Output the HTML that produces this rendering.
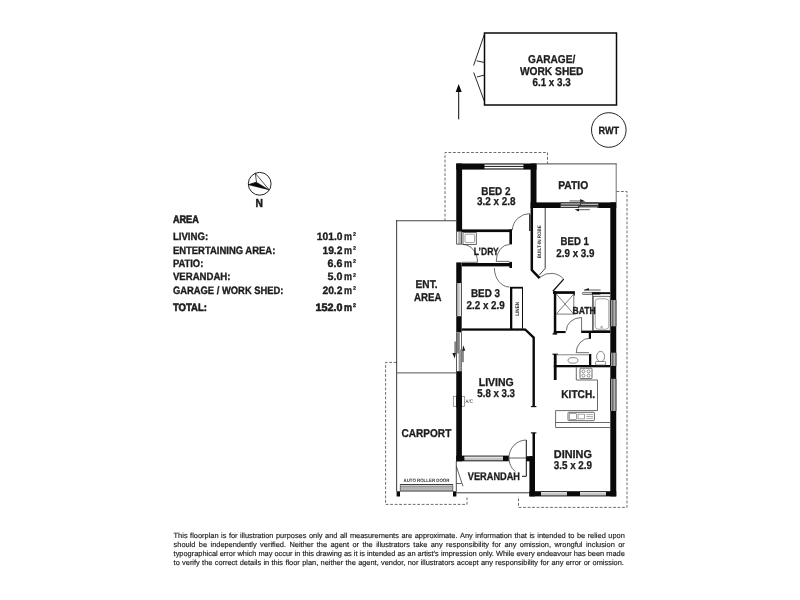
<!DOCTYPE html>
<html><head><meta charset="utf-8"><title>Floor plan</title>
<style>html,body{margin:0;padding:0;background:#fff;}
svg{display:block;font-family:"Liberation Sans",sans-serif;will-change:transform;}
text{white-space:pre;text-rendering:geometricPrecision;}</style></head>
<body>
<svg width="800" height="600" viewBox="0 0 800 600">
<rect width="800" height="600" fill="#fff"/>
<path d="M445 221 V152.5 H547.5 V163.5" stroke="#5c5c5c" stroke-width="0.9" fill="none" stroke-dasharray="2.8 1.7"/>
<path d="M616.5 191.5 H627 V507.4 H518.5 V496.5" stroke="#5c5c5c" stroke-width="0.9" fill="none" stroke-dasharray="2.8 1.7"/>
<path d="M396.5 362.4 H385.6 V504.4 H467 V496.5" stroke="#5c5c5c" stroke-width="0.9" fill="none" stroke-dasharray="2.8 1.7"/>
<rect x="484.5" y="33" width="132" height="72" fill="#fff" stroke="#0a0a0a" stroke-width="1.5"/>
<path d="M484.5 34 L473.6 65.5 M473.7 72.5 L484.5 101.7 M476.7 60.8 L484.5 62.5 M477 77 L484.5 75" stroke="#111" stroke-width="0.9" fill="none" />
<line x1="458.70" y1="119.30" x2="458.70" y2="90.00" stroke="#0a0a0a" stroke-width="1.0" />
<path d="M458.7 84 L455.7 92 L461.7 92 Z" stroke="none" stroke-width="0" fill="#0a0a0a" />
<circle cx="608.8" cy="130" r="17.3" fill="#fff" stroke="#0a0a0a" stroke-width="0.9"/>
<line x1="536.50" y1="163.90" x2="616.60" y2="163.90" stroke="#333" stroke-width="0.9" />
<line x1="616.20" y1="163.50" x2="616.20" y2="202.50" stroke="#6e6e6e" stroke-width="1.0" />
<line x1="396.20" y1="220.80" x2="456.30" y2="220.80" stroke="#444" stroke-width="1.1" />
<line x1="396.65" y1="220.30" x2="396.65" y2="491.50" stroke="#222" stroke-width="0.9" />
<line x1="396.60" y1="372.90" x2="456.30" y2="372.90" stroke="#555" stroke-width="1.0" />
<line x1="456.30" y1="461.00" x2="456.30" y2="491.50" stroke="#222" stroke-width="0.8" />
<line x1="456.30" y1="492.80" x2="529.40" y2="492.80" stroke="#222" stroke-width="0.9" />
<path d="M456.3 466.3 L463 486.3 M456.3 483.5 H461.6" stroke="#222" stroke-width="0.7" fill="none" />
<rect x="396.60" y="491.30" width="3.40" height="5.20" fill="#0a0a0a" />
<rect x="453.00" y="491.30" width="3.40" height="5.20" fill="#0a0a0a" />
<rect x="400.20" y="484.20" width="52.70" height="7.20" fill="#cfcfcf" />
<line x1="400.20" y1="484.50" x2="452.90" y2="484.50" stroke="#2a2a2a" stroke-width="0.9" />
<line x1="400.20" y1="486.85" x2="452.90" y2="486.85" stroke="#444" stroke-width="0.6" />
<line x1="400.20" y1="488.75" x2="452.90" y2="488.75" stroke="#888" stroke-width="0.5" />
<line x1="400.20" y1="490.25" x2="452.90" y2="490.25" stroke="#555" stroke-width="0.55" />
<line x1="400.20" y1="491.25" x2="452.90" y2="491.25" stroke="#2a2a2a" stroke-width="0.6" />
<line x1="400.30" y1="484.20" x2="400.30" y2="491.40" stroke="#333" stroke-width="0.6" />
<line x1="452.80" y1="484.20" x2="452.80" y2="491.40" stroke="#333" stroke-width="0.6" />
<rect x="456.25" y="163.50" width="80.25" height="6.10" fill="#0a0a0a" />
<rect x="456.25" y="163.50" width="5.85" height="67.80" fill="#0a0a0a" />
<rect x="530.60" y="163.50" width="5.90" height="44.50" fill="#0a0a0a" />
<rect x="530.60" y="202.40" width="85.65" height="5.60" fill="#0a0a0a" />
<rect x="610.30" y="202.40" width="5.95" height="294.00" fill="#0a0a0a" />
<rect x="529.40" y="491.20" width="86.85" height="5.20" fill="#0a0a0a" />
<rect x="529.40" y="456.20" width="5.60" height="40.20" fill="#0a0a0a" />
<rect x="526.20" y="456.20" width="8.80" height="5.10" fill="#0a0a0a" />
<rect x="456.25" y="455.60" width="52.55" height="5.70" fill="#0a0a0a" />
<rect x="456.25" y="370.60" width="5.65" height="90.70" fill="#0a0a0a" />
<rect x="456.25" y="316.20" width="5.45" height="16.40" fill="#0a0a0a" />
<rect x="456.25" y="262.40" width="5.45" height="20.70" fill="#0a0a0a" />
<rect x="484.50" y="163.50" width="38.90" height="1.50" fill="#5e5e5e" />
<rect x="484.50" y="165.00" width="38.90" height="3.40" fill="#303030" />
<rect x="484.50" y="168.30" width="38.90" height="1.30" fill="#858585" />
<rect x="484.50" y="164.80" width="38.90" height="1.10" fill="#fff" />
<rect x="484.50" y="167.00" width="38.90" height="1.10" fill="#fff" />
<rect x="464.40" y="456.70" width="38.60" height="3.70" fill="#c4c4c4" />
<rect x="464.40" y="456.70" width="38.60" height="0.85" fill="#fff" />
<rect x="541.00" y="492.30" width="26.00" height="3.20" fill="#c4c4c4" />
<rect x="541.00" y="492.30" width="26.00" height="0.85" fill="#fff" />
<rect x="580.00" y="492.30" width="26.00" height="3.20" fill="#c4c4c4" />
<rect x="580.00" y="492.30" width="26.00" height="0.85" fill="#fff" />
<rect x="610.30" y="300.00" width="5.95" height="26.30" fill="#0a0a0a" />
<rect x="611.40" y="300.00" width="3.25" height="26.30" fill="#1c1c1c" />
<rect x="614.55" y="300.00" width="1.70" height="26.30" fill="#787878" />
<rect x="611.40" y="300.00" width="0.95" height="26.30" fill="#fff" />
<rect x="613.50" y="300.00" width="1.10" height="26.30" fill="#fff" />
<rect x="610.30" y="352.70" width="5.95" height="13.30" fill="#0a0a0a" />
<rect x="611.40" y="352.70" width="3.25" height="13.30" fill="#1c1c1c" />
<rect x="614.55" y="352.70" width="1.70" height="13.30" fill="#787878" />
<rect x="611.40" y="352.70" width="0.95" height="13.30" fill="#fff" />
<rect x="613.50" y="352.70" width="1.10" height="13.30" fill="#fff" />
<rect x="610.30" y="378.80" width="5.95" height="32.20" fill="#0a0a0a" />
<rect x="611.40" y="378.80" width="3.25" height="32.20" fill="#1c1c1c" />
<rect x="614.55" y="378.80" width="1.70" height="32.20" fill="#787878" />
<rect x="611.40" y="378.80" width="0.95" height="32.20" fill="#fff" />
<rect x="613.50" y="378.80" width="1.10" height="32.20" fill="#fff" />
<rect x="456.70" y="231.30" width="4.95" height="12.80" fill="#fff" stroke="#222" stroke-width="0.75"/>
<line x1="459.05" y1="231.30" x2="459.05" y2="243.80" stroke="#333" stroke-width="0.7" />
<line x1="460.55" y1="231.30" x2="460.55" y2="243.80" stroke="#777" stroke-width="0.6" />
<rect x="456.25" y="283.10" width="5.45" height="32.90" fill="#0a0a0a" />
<rect x="457.15" y="283.10" width="3.65" height="32.90" fill="#c4c4c4" />
<rect x="459.80" y="283.10" width="0.95" height="32.90" fill="#fff" />
<rect x="560.10" y="202.40" width="38.70" height="5.60" fill="#3a3a3a" />
<line x1="561.20" y1="203.95" x2="580.00" y2="203.95" stroke="#fff" stroke-width="0.8" />
<line x1="581.10" y1="204.30" x2="598.00" y2="204.30" stroke="#fff" stroke-width="0.8" />
<line x1="560.90" y1="206.35" x2="578.10" y2="206.35" stroke="#fff" stroke-width="0.85" />
<line x1="579.30" y1="207.30" x2="597.30" y2="207.30" stroke="#e8e8e8" stroke-width="0.8" />
<rect x="569.50" y="200.40" width="12.00" height="1.10" fill="#6a6a6a" />
<path d="M580.2 198.9 L585.6 201.5 L580.2 201.9 Z" stroke="none" stroke-width="0" fill="#1a1a1a" />
<rect x="578.00" y="209.10" width="11.80" height="1.10" fill="#6a6a6a" />
<path d="M579 208.8 L574.6 209.6 L579 211.5 Z" stroke="none" stroke-width="0" fill="#1a1a1a" />
<rect x="456.25" y="332.70" width="5.65" height="38.50" fill="#fff" />
<rect x="456.25" y="332.70" width="0.75" height="38.50" fill="#222" />
<rect x="461.20" y="332.70" width="0.70" height="38.50" fill="#222" />
<rect x="458.80" y="332.70" width="0.70" height="38.50" fill="#333" />
<rect x="456.80" y="333.00" width="2.20" height="20.40" fill="#808080" />
<rect x="459.40" y="349.30" width="2.00" height="21.70" fill="#9a9a9a" />
<rect x="454.30" y="341.50" width="1.90" height="12.10" fill="#858585" />
<path d="M452.3 353 L455.9 353 L454.7 358.6 Z" stroke="none" stroke-width="0" fill="#1a1a1a" />
<rect x="462.00" y="350.00" width="1.90" height="12.20" fill="#858585" />
<path d="M462.2 350.8 L465.3 350.8 L463.3 345.3 Z" stroke="none" stroke-width="0" fill="#1a1a1a" />
<rect x="462.00" y="229.40" width="50.00" height="2.70" fill="#0a0a0a" />
<rect x="509.40" y="229.40" width="2.60" height="15.00" fill="#0a0a0a" />
<rect x="462.00" y="263.00" width="50.00" height="3.40" fill="#0a0a0a" />
<rect x="509.40" y="261.90" width="2.60" height="6.10" fill="#0a0a0a" />
<rect x="510.00" y="287.00" width="2.30" height="42.00" fill="#0a0a0a" />
<rect x="510.00" y="286.80" width="12.90" height="1.80" fill="#0a0a0a" />
<line x1="522.50" y1="287.50" x2="522.50" y2="328.60" stroke="#0a0a0a" stroke-width="1.0" />
<rect x="461.70" y="328.40" width="64.10" height="2.30" fill="#0a0a0a" />
<path d="M525.2 329.5 L533.7 337.6 V406.8" stroke="#0a0a0a" stroke-width="2.4" fill="none" />
<line x1="530.90" y1="406.60" x2="536.40" y2="406.60" stroke="#0a0a0a" stroke-width="1.1" />
<rect x="532.50" y="432.80" width="2.50" height="23.50" fill="#0a0a0a" />
<line x1="530.90" y1="432.90" x2="536.40" y2="432.90" stroke="#0a0a0a" stroke-width="1.1" />
<path d="M531.8 207.5 V270 L539.6 278.2" stroke="#0a0a0a" stroke-width="2.5" fill="none" />
<path d="M545.2 207.8 V268.4 L539.4 275" stroke="#0a0a0a" stroke-width="0.8" fill="none" />
<rect x="553.00" y="291.20" width="21.40" height="2.70" fill="#0a0a0a" />
<rect x="573.70" y="291.20" width="1.10" height="4.40" fill="#0a0a0a" />
<rect x="553.80" y="291.20" width="2.50" height="42.80" fill="#0a0a0a" />
<rect x="552.60" y="333.20" width="4.60" height="1.40" fill="#0a0a0a" />
<rect x="553.80" y="331.00" width="11.80" height="2.10" fill="#0a0a0a" />
<rect x="581.20" y="330.60" width="29.10" height="2.40" fill="#0a0a0a" />
<rect x="588.80" y="333.00" width="2.20" height="5.80" fill="#0a0a0a" />
<rect x="582.3" y="292.4" width="18.3" height="2.1" rx="1" fill="#d0d0d0" stroke="#333" stroke-width="0.6"/>
<rect x="591.90" y="292.20" width="18.40" height="1.90" fill="#0a0a0a" />
<line x1="584.00" y1="290.00" x2="600.60" y2="290.00" stroke="#333" stroke-width="0.8" />
<path d="M583.8 290.3 L588.6 288 L589.2 290.3 Z" stroke="none" stroke-width="0" fill="#1a1a1a" />
<rect x="553.80" y="354.00" width="2.80" height="26.00" fill="#0a0a0a" />
<line x1="552.40" y1="354.20" x2="558.00" y2="354.20" stroke="#0a0a0a" stroke-width="1.1" />
<rect x="553.80" y="365.00" width="56.50" height="2.30" fill="#0a0a0a" />
<rect x="589.00" y="354.00" width="2.30" height="11.60" fill="#0a0a0a" />
<line x1="556.60" y1="354.80" x2="589.20" y2="354.80" stroke="#666" stroke-width="0.8" />
<path d="M573.8 294 V314.1 H556.3 M556.3 294 L573.8 314.1 M573.8 294 L556.3 314.1" stroke="#444" stroke-width="0.7" fill="none" />
<path d="M592.6 294 V331" stroke="#444" stroke-width="0.8" fill="none" />
<rect x="593.2" y="296.3" width="17" height="34.3" fill="none" stroke="#444" stroke-width="0.8"/>
<rect x="595.2" y="298.8" width="13.6" height="30.4" rx="3" ry="3" fill="none" stroke="#8a8a8a" stroke-width="0.8"/>
<circle cx="601.6" cy="327.1" r="0.9" fill="none" stroke="#666" stroke-width="0.6"/>
<ellipse cx="573" cy="360.4" rx="5" ry="2.8" fill="none" stroke="#555" stroke-width="0.7"/>
<ellipse cx="600.6" cy="356.6" rx="4" ry="5.2" fill="#fff" stroke="#555" stroke-width="0.7"/>
<rect x="595.6" y="361.4" width="10" height="3.6" rx="0.8" fill="#fff" stroke="#555" stroke-width="0.7"/>
<path d="M576.3 367.3 V380 H597.5 V410.6 H555.6 V427.5 H610.3 M555.6 422.5 H610.3" stroke="#444" stroke-width="0.8" fill="none" />
<rect x="580" y="368.2" width="12" height="10.4" rx="0.8" fill="none" stroke="#444" stroke-width="0.8"/>
<circle cx="583.4" cy="371.3" r="1.5" fill="none" stroke="#555" stroke-width="0.6"/>
<circle cx="583.4" cy="375.6" r="1.5" fill="none" stroke="#555" stroke-width="0.6"/>
<circle cx="588.6" cy="371.3" r="1.5" fill="none" stroke="#555" stroke-width="0.6"/>
<circle cx="588.6" cy="375.6" r="1.5" fill="none" stroke="#555" stroke-width="0.6"/>
<rect x="568" y="412.3" width="26.4" height="8.4" rx="0.8" fill="none" stroke="#444" stroke-width="0.8"/>
<rect x="569.5" y="413.7" width="6.8" height="5.7" fill="none" stroke="#666" stroke-width="0.6"/>
<rect x="578" y="414.1" width="6.4" height="4.8" fill="none" stroke="#666" stroke-width="0.6"/>
<line x1="586.30" y1="414.60" x2="593.00" y2="414.60" stroke="#777" stroke-width="0.6" />
<line x1="586.30" y1="416.50" x2="593.00" y2="416.50" stroke="#777" stroke-width="0.6" />
<line x1="586.30" y1="418.40" x2="593.00" y2="418.40" stroke="#777" stroke-width="0.6" />
<rect x="463" y="232.6" width="13.3" height="11.8" fill="none" stroke="#444" stroke-width="0.8"/>
<rect x="465" y="234.2" width="9.6" height="8.4" rx="1" fill="none" stroke="#777" stroke-width="0.7"/>
<rect x="453.3" y="396.3" width="11.2" height="10" fill="none" stroke="#777" stroke-width="0.7"/>
<rect x="456.25" y="395.50" width="5.65" height="12.00" fill="#0a0a0a" />
<path d="M529.7 231 V213.6 A17.5 17 0 0 0 512.4 230" stroke="#2e2e2e" stroke-width="0.7" fill="none" />
<line x1="529.90" y1="214.40" x2="529.90" y2="231.00" stroke="#222" stroke-width="1.3" />
<path d="M462.5 244.4 A15 17.5 0 0 1 477.5 262.3 H462" stroke="#2e2e2e" stroke-width="0.7" fill="none" />
<path d="M509.6 244.4 A13.4 17 0 0 0 496.2 261.4 H509.6" stroke="#2e2e2e" stroke-width="0.7" fill="none" />
<path d="M494.4 268 A15 19 0 0 0 509.6 287" stroke="#2e2e2e" stroke-width="0.7" fill="none" />
<path d="M540 277.2 A17 17 0 0 1 563.7 279.2" stroke="#2e2e2e" stroke-width="0.7" fill="none" />
<line x1="563.70" y1="279.10" x2="552.90" y2="291.30" stroke="#111" stroke-width="1.3" />
<path d="M581.6 331 V317.5 A15.3 13 0 0 0 566.3 330.5" stroke="#2e2e2e" stroke-width="0.7" fill="none" />
<path d="M590 338.2 A13.8 14.5 0 0 0 576.2 352.7 H589" stroke="#2e2e2e" stroke-width="0.7" fill="none" />
<line x1="508.80" y1="458.00" x2="526.30" y2="458.00" stroke="#7c7c7c" stroke-width="1.2" />
<path d="M526.3 440 V476.3 H522" stroke="#111" stroke-width="1.0" fill="none" />
<path d="M526.3 440 A17.5 18 0 0 0 508.9 458 A17.5 18 0 0 0 515.2 471.5" stroke="#2e2e2e" stroke-width="0.7" fill="none" />
<circle cx="259.7" cy="183.8" r="11.4" fill="#fff" stroke="#0a0a0a" stroke-width="0.9"/>
<path d="M255.3 173.3 L256.5 182.2 L248.4 184.7 M255.3 173.3 L269.2 189.8" stroke="#0a0a0a" stroke-width="0.7" fill="none" />
<path d="M248.3 184.8 L256.5 182.3 L269.4 189.9 Z" stroke="#0a0a0a" stroke-width="0.4" fill="#0a0a0a" />
<text x="528.10" y="63.00" font-size="11.3" font-weight="bold" fill="#1c1c1c" stroke="#1c1c1c" stroke-width="0.3" stroke-linejoin="round" textLength="47.20" lengthAdjust="spacingAndGlyphs" >GARAGE/</text>
<text x="519.90" y="74.60" font-size="11.3" font-weight="bold" fill="#1c1c1c" stroke="#1c1c1c" stroke-width="0.3" stroke-linejoin="round" textLength="63.60" lengthAdjust="spacingAndGlyphs" >WORK SHED</text>
<text x="532.50" y="85.90" font-size="11.3" font-weight="bold" fill="#1c1c1c" stroke="#1c1c1c" stroke-width="0.3" stroke-linejoin="round" textLength="38.10" lengthAdjust="spacingAndGlyphs" >6.1 x 3.3</text>
<text x="598.50" y="133.60" font-size="10.6" font-weight="bold" fill="#1c1c1c" stroke="#1c1c1c" stroke-width="0.3" stroke-linejoin="round" textLength="20.70" lengthAdjust="spacingAndGlyphs" >RWT</text>
<text x="481.30" y="195.40" font-size="11.3" font-weight="bold" fill="#1c1c1c" stroke="#1c1c1c" stroke-width="0.3" stroke-linejoin="round" textLength="29.10" lengthAdjust="spacingAndGlyphs" >BED 2</text>
<text x="477.00" y="205.00" font-size="11.3" font-weight="bold" fill="#1c1c1c" stroke="#1c1c1c" stroke-width="0.3" stroke-linejoin="round" textLength="38.50" lengthAdjust="spacingAndGlyphs" >3.2 x 2.8</text>
<text x="558.20" y="188.80" font-size="11.3" font-weight="bold" fill="#1c1c1c" stroke="#1c1c1c" stroke-width="0.3" stroke-linejoin="round" textLength="30.00" lengthAdjust="spacingAndGlyphs" >PATIO</text>
<text x="560.60" y="245.00" font-size="11.3" font-weight="bold" fill="#1c1c1c" stroke="#1c1c1c" stroke-width="0.3" stroke-linejoin="round" textLength="28.20" lengthAdjust="spacingAndGlyphs" >BED 1</text>
<text x="556.30" y="256.50" font-size="11.3" font-weight="bold" fill="#1c1c1c" stroke="#1c1c1c" stroke-width="0.3" stroke-linejoin="round" textLength="38.10" lengthAdjust="spacingAndGlyphs" >2.9 x 3.9</text>
<text x="473.80" y="254.60" font-size="10.6" font-weight="bold" fill="#1c1c1c" stroke="#1c1c1c" stroke-width="0.3" stroke-linejoin="round" textLength="25.00" lengthAdjust="spacingAndGlyphs" >L’DRY</text>
<text x="471.00" y="296.50" font-size="11.3" font-weight="bold" fill="#1c1c1c" stroke="#1c1c1c" stroke-width="0.3" stroke-linejoin="round" textLength="29.00" lengthAdjust="spacingAndGlyphs" >BED 3</text>
<text x="466.50" y="308.50" font-size="11.3" font-weight="bold" fill="#1c1c1c" stroke="#1c1c1c" stroke-width="0.3" stroke-linejoin="round" textLength="38.30" lengthAdjust="spacingAndGlyphs" >2.2 x 2.9</text>
<text x="415.60" y="288.00" font-size="11.3" font-weight="bold" fill="#1c1c1c" stroke="#1c1c1c" stroke-width="0.3" stroke-linejoin="round" textLength="21.90" lengthAdjust="spacingAndGlyphs" >ENT.</text>
<text x="414.00" y="300.60" font-size="11.3" font-weight="bold" fill="#1c1c1c" stroke="#1c1c1c" stroke-width="0.3" stroke-linejoin="round" textLength="27.50" lengthAdjust="spacingAndGlyphs" >AREA</text>
<text x="572.50" y="313.80" font-size="10.2" font-weight="bold" fill="#1c1c1c" stroke="#1c1c1c" stroke-width="0.3" stroke-linejoin="round" textLength="23.20" lengthAdjust="spacingAndGlyphs" >BATH</text>
<text x="478.80" y="385.60" font-size="11.3" font-weight="bold" fill="#1c1c1c" stroke="#1c1c1c" stroke-width="0.3" stroke-linejoin="round" textLength="35.00" lengthAdjust="spacingAndGlyphs" >LIVING</text>
<text x="477.30" y="396.50" font-size="11.3" font-weight="bold" fill="#1c1c1c" stroke="#1c1c1c" stroke-width="0.3" stroke-linejoin="round" textLength="37.70" lengthAdjust="spacingAndGlyphs" >5.8 x 3.3</text>
<text x="561.30" y="397.80" font-size="11.3" font-weight="bold" fill="#1c1c1c" stroke="#1c1c1c" stroke-width="0.3" stroke-linejoin="round" textLength="33.70" lengthAdjust="spacingAndGlyphs" >KITCH.</text>
<text x="401.50" y="437.00" font-size="11.3" font-weight="bold" fill="#1c1c1c" stroke="#1c1c1c" stroke-width="0.3" stroke-linejoin="round" textLength="49.80" lengthAdjust="spacingAndGlyphs" >CARPORT</text>
<text x="553.80" y="457.50" font-size="11.3" font-weight="bold" fill="#1c1c1c" stroke="#1c1c1c" stroke-width="0.3" stroke-linejoin="round" textLength="38.20" lengthAdjust="spacingAndGlyphs" >DINING</text>
<text x="553.80" y="468.50" font-size="11.3" font-weight="bold" fill="#1c1c1c" stroke="#1c1c1c" stroke-width="0.3" stroke-linejoin="round" textLength="38.20" lengthAdjust="spacingAndGlyphs" >3.5 x 2.9</text>
<text x="467.80" y="480.00" font-size="11.1" font-weight="bold" fill="#1c1c1c" stroke="#1c1c1c" stroke-width="0.3" stroke-linejoin="round" textLength="52.20" lengthAdjust="spacingAndGlyphs" >VERANDAH</text>
<text x="403.50" y="481.60" font-size="4.9" font-weight="bold" fill="#333" textLength="45.90" lengthAdjust="spacingAndGlyphs" >AUTO ROLLER DOOR</text>
<text x="465.60" y="403.40" font-size="5.2" font-weight="normal" fill="#333" textLength="7.20" lengthAdjust="spacingAndGlyphs" >A/C</text>
<text transform="translate(541 258.3) rotate(-90)" font-size="5" font-weight="bold" fill="#333" textLength="33.2" lengthAdjust="spacingAndGlyphs">BUILT-IN ROBE</text>
<text transform="translate(519.1 315.8) rotate(-90)" font-size="5.2" font-weight="bold" fill="#333" textLength="13.9" lengthAdjust="spacingAndGlyphs">LINEN</text>
<text x="255.50" y="206.50" font-size="11.8" font-weight="bold" fill="#1c1c1c" stroke="#1c1c1c" stroke-width="0.5" stroke-linejoin="round" textLength="7.40" lengthAdjust="spacingAndGlyphs" >N</text>
<text x="172.90" y="223.10" font-size="11" font-weight="bold" fill="#1c1c1c" stroke="#1c1c1c" stroke-width="0.6" stroke-linejoin="round" textLength="25.90" lengthAdjust="spacingAndGlyphs" >AREA</text>
<text x="172.90" y="240.10" font-size="10.7" font-weight="bold" fill="#1c1c1c" stroke="#1c1c1c" stroke-width="0.35" stroke-linejoin="round" textLength="35.30" lengthAdjust="spacingAndGlyphs" >LIVING:</text>
<text x="316.80" y="240.10" font-size="10.7" font-weight="bold" fill="#1c1c1c" stroke="#1c1c1c" stroke-width="0.35" stroke-linejoin="round" textLength="25.70" lengthAdjust="spacingAndGlyphs" >101.0</text>
<text x="344.10" y="240.10" font-size="10.7" font-weight="bold" fill="#1c1c1c" stroke="#1c1c1c" stroke-width="0.35" stroke-linejoin="round" textLength="8.00" lengthAdjust="spacingAndGlyphs" >m</text>
<text x="352.90" y="236.40" font-size="5.6" font-weight="bold" fill="#1c1c1c" stroke="#1c1c1c" stroke-width="0.24499999999999997" stroke-linejoin="round" textLength="3.00" lengthAdjust="spacingAndGlyphs" >2</text>
<text x="172.90" y="253.50" font-size="10.7" font-weight="bold" fill="#1c1c1c" stroke="#1c1c1c" stroke-width="0.35" stroke-linejoin="round" textLength="102.40" lengthAdjust="spacingAndGlyphs" >ENTERTAINING AREA:</text>
<text x="322.40" y="253.50" font-size="10.7" font-weight="bold" fill="#1c1c1c" stroke="#1c1c1c" stroke-width="0.35" stroke-linejoin="round" textLength="20.10" lengthAdjust="spacingAndGlyphs" >19.2</text>
<text x="344.10" y="253.50" font-size="10.7" font-weight="bold" fill="#1c1c1c" stroke="#1c1c1c" stroke-width="0.35" stroke-linejoin="round" textLength="8.00" lengthAdjust="spacingAndGlyphs" >m</text>
<text x="352.90" y="249.80" font-size="5.6" font-weight="bold" fill="#1c1c1c" stroke="#1c1c1c" stroke-width="0.24499999999999997" stroke-linejoin="round" textLength="3.00" lengthAdjust="spacingAndGlyphs" >2</text>
<text x="172.90" y="266.90" font-size="10.7" font-weight="bold" fill="#1c1c1c" stroke="#1c1c1c" stroke-width="0.35" stroke-linejoin="round" textLength="30.40" lengthAdjust="spacingAndGlyphs" >PATIO:</text>
<text x="327.60" y="266.90" font-size="10.7" font-weight="bold" fill="#1c1c1c" stroke="#1c1c1c" stroke-width="0.35" stroke-linejoin="round" textLength="14.90" lengthAdjust="spacingAndGlyphs" >6.6</text>
<text x="344.10" y="266.90" font-size="10.7" font-weight="bold" fill="#1c1c1c" stroke="#1c1c1c" stroke-width="0.35" stroke-linejoin="round" textLength="8.00" lengthAdjust="spacingAndGlyphs" >m</text>
<text x="352.90" y="263.20" font-size="5.6" font-weight="bold" fill="#1c1c1c" stroke="#1c1c1c" stroke-width="0.24499999999999997" stroke-linejoin="round" textLength="3.00" lengthAdjust="spacingAndGlyphs" >2</text>
<text x="172.90" y="280.30" font-size="10.7" font-weight="bold" fill="#1c1c1c" stroke="#1c1c1c" stroke-width="0.35" stroke-linejoin="round" textLength="57.60" lengthAdjust="spacingAndGlyphs" >VERANDAH:</text>
<text x="327.60" y="280.30" font-size="10.7" font-weight="bold" fill="#1c1c1c" stroke="#1c1c1c" stroke-width="0.35" stroke-linejoin="round" textLength="14.90" lengthAdjust="spacingAndGlyphs" >5.0</text>
<text x="344.10" y="280.30" font-size="10.7" font-weight="bold" fill="#1c1c1c" stroke="#1c1c1c" stroke-width="0.35" stroke-linejoin="round" textLength="8.00" lengthAdjust="spacingAndGlyphs" >m</text>
<text x="352.90" y="276.60" font-size="5.6" font-weight="bold" fill="#1c1c1c" stroke="#1c1c1c" stroke-width="0.24499999999999997" stroke-linejoin="round" textLength="3.00" lengthAdjust="spacingAndGlyphs" >2</text>
<text x="172.90" y="293.80" font-size="10.7" font-weight="bold" fill="#1c1c1c" stroke="#1c1c1c" stroke-width="0.35" stroke-linejoin="round" textLength="110.60" lengthAdjust="spacingAndGlyphs" >GARAGE / WORK SHED:</text>
<text x="322.40" y="293.80" font-size="10.7" font-weight="bold" fill="#1c1c1c" stroke="#1c1c1c" stroke-width="0.35" stroke-linejoin="round" textLength="20.10" lengthAdjust="spacingAndGlyphs" >20.2</text>
<text x="344.10" y="293.80" font-size="10.7" font-weight="bold" fill="#1c1c1c" stroke="#1c1c1c" stroke-width="0.35" stroke-linejoin="round" textLength="8.00" lengthAdjust="spacingAndGlyphs" >m</text>
<text x="352.90" y="290.10" font-size="5.6" font-weight="bold" fill="#1c1c1c" stroke="#1c1c1c" stroke-width="0.24499999999999997" stroke-linejoin="round" textLength="3.00" lengthAdjust="spacingAndGlyphs" >2</text>
<text x="172.90" y="310.60" font-size="10.7" font-weight="bold" fill="#1c1c1c" stroke="#1c1c1c" stroke-width="0.6" stroke-linejoin="round" textLength="34.10" lengthAdjust="spacingAndGlyphs" >TOTAL:</text>
<text x="315.60" y="310.60" font-size="10.7" font-weight="bold" fill="#1c1c1c" stroke="#1c1c1c" stroke-width="0.6" stroke-linejoin="round" textLength="26.90" lengthAdjust="spacingAndGlyphs" >152.0</text>
<text x="344.10" y="310.60" font-size="10.7" font-weight="bold" fill="#1c1c1c" stroke="#1c1c1c" stroke-width="0.6" stroke-linejoin="round" textLength="8.00" lengthAdjust="spacingAndGlyphs" >m</text>
<text x="352.90" y="306.90" font-size="5.6" font-weight="bold" fill="#1c1c1c" stroke="#1c1c1c" stroke-width="0.42" stroke-linejoin="round" textLength="3.00" lengthAdjust="spacingAndGlyphs" >2</text>
<text y="537.70" font-size="7.42" fill="#1e1e1e" stroke="#1e1e1e" stroke-width="0.16"><tspan x="173.60">This</tspan><tspan x="190.11">floorplan</tspan><tspan x="221.07">is</tspan><tspan x="228.92">for</tspan><tspan x="240.07">illustration</tspan><tspan x="275.97">purposes</tspan><tspan x="308.99">only</tspan><tspan x="325.09">and</tspan><tspan x="339.97">all</tspan><tspan x="349.89">measurements</tspan><tspan x="401.45">are</tspan><tspan x="414.67">approximate.</tspan><tspan x="460.06">Any</tspan><tspan x="475.34">information</tspan><tspan x="514.54">that</tspan><tspan x="529.41">is</tspan><tspan x="537.26">intended</tspan><tspan x="568.22">to</tspan><tspan x="576.90">be</tspan><tspan x="587.65">relied</tspan><tspan x="608.29">upon</tspan></text>
<text y="546.90" font-size="7.42" fill="#1e1e1e" stroke="#1e1e1e" stroke-width="0.16"><tspan x="173.60">should</tspan><tspan x="198.85">be</tspan><tspan x="210.50">independently</tspan><tspan x="260.10">verified.</tspan><tspan x="289.47">Neither</tspan><tspan x="316.77">the</tspan><tspan x="330.48">agent</tspan><tspan x="352.44">or</tspan><tspan x="362.42">the</tspan><tspan x="376.13">illustrators</tspan><tspan x="413.33">take</tspan><tspan x="430.74">any</tspan><tspan x="446.10">responsibility</tspan><tspan x="492.37">for</tspan><tspan x="504.42">any</tspan><tspan x="519.78">omission,</tspan><tspan x="554.50">wrongful</tspan><tspan x="585.94">inclusion</tspan><tspan x="618.20">or</tspan></text>
<text y="556.10" font-size="7.42" fill="#1e1e1e" stroke="#1e1e1e" stroke-width="0.16"><tspan x="173.60">typographical</tspan><tspan x="219.75">error</tspan><tspan x="237.44">which</tspan><tspan x="258.43">may</tspan><tspan x="274.46">occur</tspan><tspan x="294.62">in</tspan><tspan x="302.42">this</tspan><tspan x="315.98">drawing</tspan><tspan x="343.98">as</tspan><tspan x="353.84">it</tspan><tspan x="359.57">is</tspan><tspan x="366.94">intended</tspan><tspan x="397.43">as</tspan><tspan x="407.29">an</tspan><tspan x="417.56">artist’s</tspan><tspan x="440.88">impression</tspan><tspan x="478.77">only.</tspan><tspan x="495.91">While</tspan><tspan x="516.49">every</tspan><tspan x="536.65">endeavour</tspan><tspan x="573.73">has</tspan><tspan x="587.71">been</tspan><tspan x="606.24">made</tspan></text>
<text y="565.30" font-size="7.42" fill="#1e1e1e" stroke="#1e1e1e" stroke-width="0.16"><tspan x="173.60">to</tspan><tspan x="182.09">verify</tspan><tspan x="202.12">the</tspan><tspan x="214.74">correct</tspan><tspan x="239.72">details</tspan><tspan x="263.47">in</tspan><tspan x="271.54">this</tspan><tspan x="285.39">floor</tspan><tspan x="302.13">plan,</tspan><tspan x="320.52">neither</tspan><tspan x="345.51">the</tspan><tspan x="358.13">agent,</tspan><tspan x="381.06">vendor,</tspan><tspan x="407.70">nor</tspan><tspan x="420.73">illustrators</tspan><tspan x="456.84">accept</tspan><tspan x="481.01">any</tspan><tspan x="495.27">responsibility</tspan><tspan x="540.46">for</tspan><tspan x="551.43">any</tspan><tspan x="565.69">error</tspan><tspan x="583.66">or</tspan><tspan x="592.56">omission.</tspan></text>
</svg>
</body></html>
